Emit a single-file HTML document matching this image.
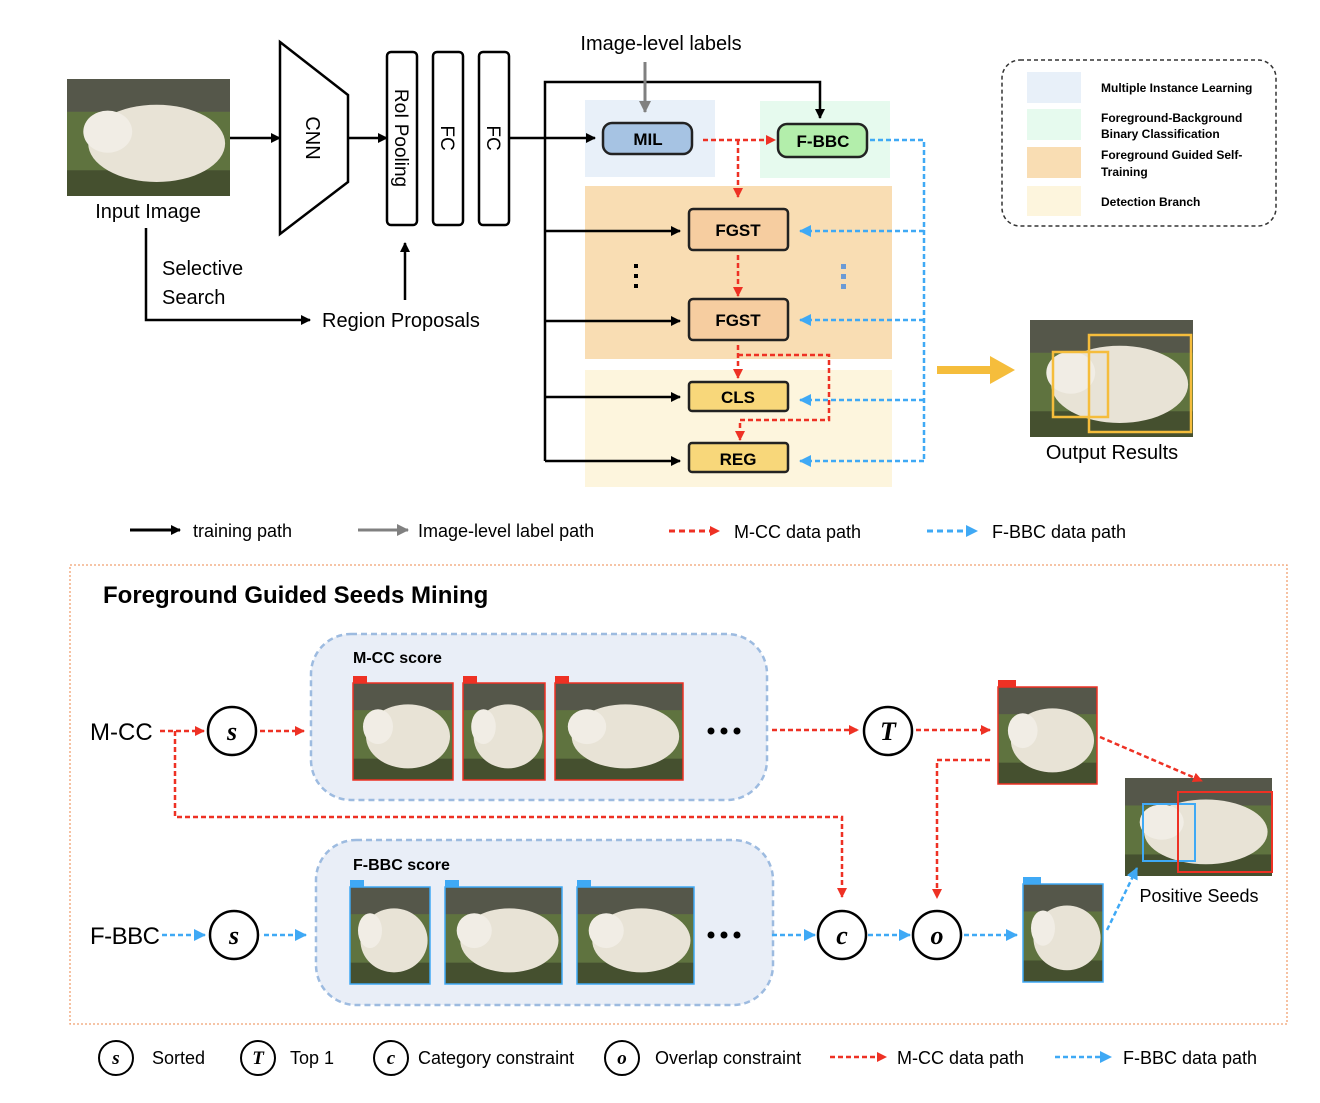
<!DOCTYPE html>
<html><head><meta charset="utf-8"><style>
html,body{margin:0;padding:0;background:#fff}
svg text{font-family:"Liberation Sans",sans-serif}
svg text.sf{font-family:"Liberation Serif",serif;font-style:italic;font-weight:bold}
</style></head><body>
<svg width="1320" height="1098" viewBox="0 0 1320 1098" xmlns="http://www.w3.org/2000/svg">
<defs>
<pattern id="ph" patternUnits="objectBoundingBox" patternContentUnits="objectBoundingBox" width="1" height="1">
<rect width="1" height="1" fill="#5f733f"/>
<rect width="1" height="0.28" fill="#55574a"/>
<rect y="0.78" width="1" height="0.22" fill="#45502f"/>
<ellipse cx="0.55" cy="0.55" rx="0.42" ry="0.33" fill="#e8e3d6"/>
<ellipse cx="0.25" cy="0.45" rx="0.15" ry="0.18" fill="#f1ede5"/>
</pattern>
<marker id="ab" markerWidth="10" markerHeight="10" refX="9" refY="5" orient="auto" markerUnits="userSpaceOnUse"><path d="M0,0 L10,5 L0,10 z" fill="#000"/></marker>
<marker id="ag" markerWidth="12" markerHeight="12" refX="11" refY="6" orient="auto" markerUnits="userSpaceOnUse"><path d="M0,0 L12,6 L0,12 z" fill="#808080"/></marker>
<marker id="ar" markerWidth="10" markerHeight="10" refX="9" refY="5" orient="auto" markerUnits="userSpaceOnUse"><path d="M0,0 L10,5 L0,10 z" fill="#ee3124"/></marker>
<marker id="au" markerWidth="12" markerHeight="12" refX="11" refY="6" orient="auto" markerUnits="userSpaceOnUse"><path d="M0,0 L12,6 L0,12 z" fill="#3fa9f5"/></marker>
</defs>

<rect x="67" y="79" width="163" height="117" fill="url(#ph)"/>
<text x="148" y="218" font-size="20" text-anchor="middle">Input Image</text>
<line x1="230" y1="138" x2="280" y2="138" stroke="#000" stroke-width="2.5" marker-end="url(#ab)"/>
<path d="M280,42 L348,95 L348,182 L280,234 Z" fill="#fff" stroke="#000" stroke-width="2.5"/>
<text transform="translate(306,138) rotate(90)" font-size="20" text-anchor="middle">CNN</text>
<line x1="348" y1="138" x2="387" y2="138" stroke="#000" stroke-width="2.5" marker-end="url(#ab)"/>
<rect x="387" y="52" width="30" height="173" rx="4" fill="#fff" stroke="#000" stroke-width="2.5"/>
<text transform="translate(395,138) rotate(90)" font-size="19" text-anchor="middle">RoI Pooling</text>
<rect x="433" y="52" width="30" height="173" rx="4" fill="#fff" stroke="#000" stroke-width="2.5"/>
<text transform="translate(441,138) rotate(90)" font-size="19" text-anchor="middle">FC</text>
<rect x="479" y="52" width="30" height="173" rx="4" fill="#fff" stroke="#000" stroke-width="2.5"/>
<text transform="translate(487,138) rotate(90)" font-size="19" text-anchor="middle">FC</text>
<path d="M146,228 L146,320 L310,320" fill="none" stroke="#000" stroke-width="2.5" marker-end="url(#ab)"/>
<text x="162" y="275" font-size="20">Selective</text>
<text x="162" y="304" font-size="20">Search</text>
<text x="322" y="327" font-size="20">Region Proposals</text>
<line x1="405" y1="300" x2="405" y2="243" stroke="#000" stroke-width="2.5" marker-end="url(#ab)"/>

<rect x="585" y="100" width="130" height="77" fill="#e8f0f9"/>
<rect x="760" y="101" width="130" height="77" fill="#e6faee"/>
<rect x="585" y="186" width="307" height="173" fill="#f9ddb3"/>
<rect x="585" y="370" width="307" height="117" fill="#fdf5dd"/>
<line x1="509" y1="138" x2="595" y2="138" stroke="#000" stroke-width="2.5" marker-end="url(#ab)"/>

<text x="661" y="50" font-size="20" text-anchor="middle">Image-level labels</text>
<path d="M545,461 L545,82 L820,82 L820,118" fill="none" stroke="#000" stroke-width="2.5" marker-end="url(#ab)"/>
<line x1="645" y1="62" x2="645" y2="112" stroke="#808080" stroke-width="3" marker-end="url(#ag)"/>
<line x1="545" y1="231" x2="680" y2="231" stroke="#000" stroke-width="2.5" marker-end="url(#ab)"/>
<line x1="545" y1="321" x2="680" y2="321" stroke="#000" stroke-width="2.5" marker-end="url(#ab)"/>
<line x1="545" y1="397" x2="680" y2="397" stroke="#000" stroke-width="2.5" marker-end="url(#ab)"/>
<line x1="545" y1="461" x2="680" y2="461" stroke="#000" stroke-width="2.5" marker-end="url(#ab)"/>

<g fill="none" stroke="#ee3124" stroke-width="2.5" stroke-dasharray="5,3">
<line x1="703" y1="140" x2="775" y2="140" marker-end="url(#ar)"/>
<line x1="738" y1="140" x2="738" y2="197" marker-end="url(#ar)"/>
<line x1="738" y1="255" x2="738" y2="296" marker-end="url(#ar)"/>
<line x1="738" y1="345" x2="738" y2="378" marker-end="url(#ar)"/>
<path d="M738,355 L829,355 L829,420 L740,420 L740,440" marker-end="url(#ar)"/>
</g>
<g fill="none" stroke="#3fa9f5" stroke-width="2.5" stroke-dasharray="5,3">
<path d="M870,140 L924,140 L924,461"/>
<line x1="924" y1="231" x2="800" y2="231" marker-end="url(#au)"/>
<line x1="924" y1="320" x2="800" y2="320" marker-end="url(#au)"/>
<line x1="924" y1="400" x2="800" y2="400" marker-end="url(#au)"/>
<line x1="924" y1="461" x2="800" y2="461" marker-end="url(#au)"/>
</g>
<g fill="#000"><rect x="634" y="264" width="4" height="4"/><rect x="634" y="274" width="4" height="4"/><rect x="634" y="284" width="4" height="4"/></g>
<g fill="#6b9ad6"><rect x="841" y="264" width="5" height="5"/><rect x="841" y="274" width="5" height="5"/><rect x="841" y="284" width="5" height="5"/></g>

<g stroke="#222" stroke-width="2.5">
<rect x="603" y="123" width="89" height="31" rx="9" fill="#a6c3e3"/>
<rect x="778" y="124" width="89" height="33" rx="9" fill="#b3eeab"/>
<rect x="689" y="209" width="99" height="41" rx="4" fill="#f6cda0"/>
<rect x="689" y="299" width="99" height="41" rx="4" fill="#f6cda0"/>
<rect x="689" y="382" width="99" height="29" rx="3" fill="#f8d77a"/>
<rect x="689" y="443" width="99" height="29" rx="3" fill="#f8d77a"/>
</g>
<g font-weight="bold" font-size="17" text-anchor="middle">
<text x="648" y="145">MIL</text><text x="823" y="147">F-BBC</text>
<text x="738" y="236">FGST</text><text x="738" y="326">FGST</text>
<text x="738" y="403">CLS</text><text x="738" y="465">REG</text>
</g>

<rect x="1002" y="60" width="274" height="166" rx="18" fill="none" stroke="#333" stroke-width="1.5" stroke-dasharray="4,3"/>
<rect x="1027" y="72" width="54" height="31" fill="#e8f0f9"/>
<rect x="1027" y="109" width="54" height="31" fill="#e6faee"/>
<rect x="1027" y="147" width="54" height="31" fill="#f9ddb3"/>
<rect x="1027" y="186" width="54" height="30" fill="#fdf5dd"/>
<g font-size="12" font-weight="bold">
<text x="1101" y="92">Multiple Instance Learning</text>
<text x="1101" y="122">Foreground-Background</text><text x="1101" y="138">Binary Classification</text>
<text x="1101" y="159">Foreground Guided Self-</text><text x="1101" y="176">Training</text>
<text x="1101" y="206">Detection Branch</text>
</g>

<path d="M937,370 L993,370" stroke="#f5bd3c" stroke-width="8"/>
<path d="M990,356 L1015,370 L990,384 Z" fill="#f5bd3c"/>
<rect x="1030" y="320" width="163" height="117" fill="url(#ph)"/>
<rect x="1053" y="352" width="55" height="65" fill="none" stroke="#f5bd3c" stroke-width="2.5"/>
<rect x="1089" y="335" width="102" height="97" fill="none" stroke="#f5bd3c" stroke-width="2.5"/>
<text x="1112" y="459" font-size="20" text-anchor="middle">Output Results</text>

<line x1="130" y1="530" x2="180" y2="530" stroke="#000" stroke-width="3" marker-end="url(#ab)"/>
<text x="193" y="537" font-size="18">training path</text>
<line x1="358" y1="530" x2="408" y2="530" stroke="#808080" stroke-width="3" marker-end="url(#ag)"/>
<text x="418" y="537" font-size="18">Image-level label path</text>
<line x1="669" y1="531" x2="719" y2="531" stroke="#ee3124" stroke-width="3" stroke-dasharray="6,4" marker-end="url(#ar)"/>
<text x="734" y="538" font-size="18">M-CC data path</text>
<line x1="927" y1="531" x2="977" y2="531" stroke="#3fa9f5" stroke-width="3" stroke-dasharray="6,4" marker-end="url(#au)"/>
<text x="992" y="538" font-size="18">F-BBC data path</text>

<rect x="70" y="565" width="1217" height="459" fill="none" stroke="#f0a070" stroke-width="1.3" stroke-dasharray="2,2"/>
<text x="103" y="603" font-size="24" font-weight="bold">Foreground Guided Seeds Mining</text>

<rect x="311" y="634" width="456" height="166" rx="40" fill="#e9eef7" stroke="#9dbbe0" stroke-width="2.5" stroke-dasharray="6,4"/>
<rect x="316" y="840" width="457" height="165" rx="40" fill="#e9eef7" stroke="#9dbbe0" stroke-width="2.5" stroke-dasharray="6,4"/>
<text x="353" y="663" font-size="16" font-weight="bold">M-CC score</text>
<text x="353" y="870" font-size="16" font-weight="bold">F-BBC score</text>

<g stroke="#ee3124" stroke-width="1.5">
<rect x="353" y="683" width="100" height="97" fill="url(#ph)"/>
<rect x="463" y="683" width="82" height="97" fill="url(#ph)"/>
<rect x="555" y="683" width="128" height="97" fill="url(#ph)"/>
<rect x="998" y="687" width="99" height="97" fill="url(#ph)"/>
</g>
<g fill="#ee3124"><rect x="353" y="676" width="14" height="7"/><rect x="463" y="676" width="14" height="7"/><rect x="555" y="676" width="14" height="7"/><rect x="998" y="680" width="18" height="7"/></g>
<g stroke="#3fa9f5" stroke-width="1.5">
<rect x="350" y="887" width="80" height="97" fill="url(#ph)"/>
<rect x="445" y="887" width="117" height="97" fill="url(#ph)"/>
<rect x="577" y="887" width="117" height="97" fill="url(#ph)"/>
<rect x="1023" y="884" width="80" height="98" fill="url(#ph)"/>
</g>
<g fill="#3fa9f5"><rect x="350" y="880" width="14" height="7"/><rect x="445" y="880" width="14" height="7"/><rect x="577" y="880" width="14" height="7"/><rect x="1023" y="877" width="18" height="7"/></g>
<rect x="1125" y="778" width="147" height="98" fill="url(#ph)"/>
<rect x="1143" y="804" width="52" height="57" fill="none" stroke="#3fa9f5" stroke-width="2"/>
<rect x="1178" y="792" width="94" height="80" fill="none" stroke="#ee3124" stroke-width="2"/>
<text x="1199" y="902" font-size="18" text-anchor="middle">Positive Seeds</text>

<g fill="#000"><circle cx="711" cy="731" r="3.5"/><circle cx="724" cy="731" r="3.5"/><circle cx="737" cy="731" r="3.5"/>
<circle cx="711" cy="935" r="3.5"/><circle cx="724" cy="935" r="3.5"/><circle cx="737" cy="935" r="3.5"/></g>

<text x="90" y="740" font-size="24">M-CC</text>
<text x="90" y="944" font-size="24" textLength="70">F-BBC</text>

<g fill="none" stroke="#ee3124" stroke-width="2.5" stroke-dasharray="5,3">
<line x1="160" y1="731" x2="204" y2="731" marker-end="url(#ar)"/>
<line x1="260" y1="731" x2="304" y2="731" marker-end="url(#ar)"/>
<line x1="772" y1="730" x2="858" y2="730" marker-end="url(#ar)"/>
<line x1="916" y1="730" x2="990" y2="730" marker-end="url(#ar)"/>
<path d="M175,731 L175,817 L842,817 L842,897" marker-end="url(#ar)"/>
<path d="M990,760 L937,760 L937,898" marker-end="url(#ar)"/>
<line x1="1100" y1="737" x2="1202" y2="781" marker-end="url(#ar)"/>
</g>
<g fill="none" stroke="#3fa9f5" stroke-width="2.5" stroke-dasharray="5,3">
<line x1="162" y1="935" x2="205" y2="935" marker-end="url(#au)"/>
<line x1="264" y1="935" x2="306" y2="935" marker-end="url(#au)"/>
<line x1="772" y1="935" x2="815" y2="935" marker-end="url(#au)"/>
<line x1="868" y1="935" x2="910" y2="935" marker-end="url(#au)"/>
<line x1="964" y1="935" x2="1017" y2="935" marker-end="url(#au)"/>
<line x1="1107" y1="930" x2="1137" y2="868" marker-end="url(#au)"/>
</g>

<g fill="#fff" stroke="#000" stroke-width="2.5">
<circle cx="232" cy="731" r="24"/><circle cx="888" cy="731" r="24"/>
<circle cx="234" cy="935" r="24"/><circle cx="842" cy="935" r="24"/><circle cx="937" cy="935" r="24"/>
</g>
<g font-size="26" text-anchor="middle">
<text class="sf" x="232" y="740">s</text>
<text class="sf" x="888" y="740">T</text>
<text class="sf" x="234" y="944">s</text>
<text class="sf" x="842" y="944">c</text>
<text class="sf" x="937" y="944">o</text>
</g>

<g fill="#fff" stroke="#000" stroke-width="2">
<circle cx="116" cy="1058" r="17"/><circle cx="258" cy="1058" r="17"/><circle cx="391" cy="1058" r="17"/><circle cx="622" cy="1058" r="17"/>
</g>
<g font-size="19" text-anchor="middle">
<text class="sf" x="116" y="1064">s</text>
<text class="sf" x="258" y="1064">T</text>
<text class="sf" x="391" y="1064">c</text>
<text class="sf" x="622" y="1064">o</text>
</g>
<g font-size="18">
<text x="152" y="1064">Sorted</text>
<text x="290" y="1064">Top 1</text>
<text x="418" y="1064">Category constraint</text>
<text x="655" y="1064">Overlap constraint</text>
<text x="897" y="1064">M-CC data path</text>
<text x="1123" y="1064">F-BBC data path</text>
</g>
<line x1="830" y1="1057" x2="886" y2="1057" stroke="#ee3124" stroke-width="2.5" stroke-dasharray="5,3" marker-end="url(#ar)"/>
<line x1="1055" y1="1057" x2="1111" y2="1057" stroke="#3fa9f5" stroke-width="2.5" stroke-dasharray="5,3" marker-end="url(#au)"/>
</svg>
</body></html>
